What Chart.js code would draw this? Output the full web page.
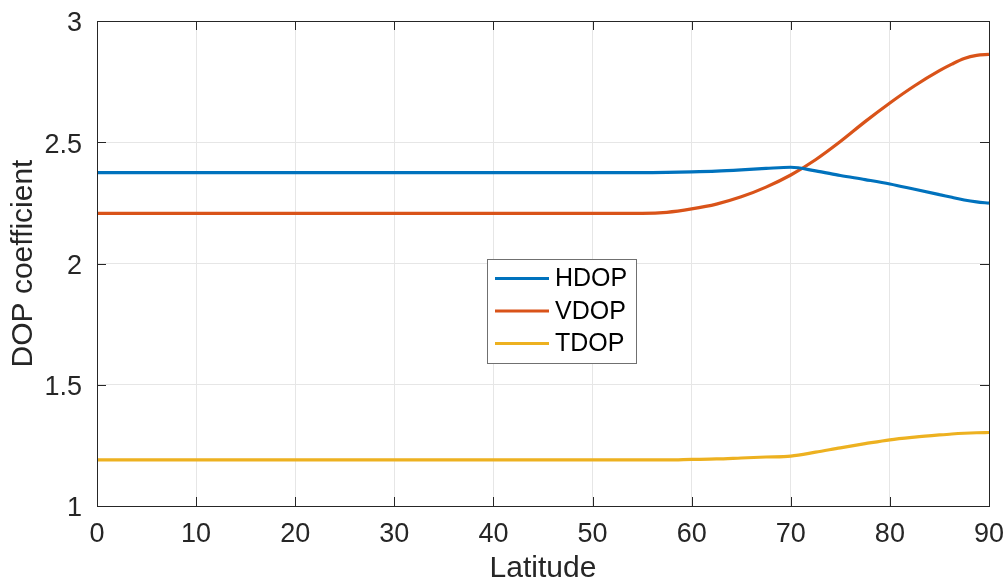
<!DOCTYPE html>
<html>
<head>
<meta charset="utf-8">
<script src="https://cdn.jsdelivr.net/npm/chart.js@4"></script>
<style>
  body { margin: 0; background: #fff; }
  canvas { display: block; }
</style>
</head>
<body>
<canvas id="myChart" width="1008" height="584"></canvas>
<script>
// latitude samples (deg)
var latitude = [0, 5, 10, 15, 20, 25, 30, 35, 40, 45, 50, 55, 57.5, 60, 62.5, 65, 67.5, 70, 72.5, 75, 77.5, 80, 82.5, 85, 86.25, 87.5, 88.75, 90];

// DOP values at those latitudes
var hdop = [2.375, 2.375, 2.375, 2.375, 2.375, 2.375, 2.375, 2.375, 2.375, 2.375, 2.375, 2.375, 2.376, 2.378, 2.381, 2.386, 2.392, 2.397, 2.382, 2.363, 2.346, 2.328, 2.306, 2.284, 2.273, 2.262, 2.254, 2.249];
var vdop = [2.207, 2.207, 2.207, 2.207, 2.207, 2.207, 2.207, 2.207, 2.207, 2.207, 2.207, 2.207, 2.211, 2.225, 2.245, 2.275, 2.315, 2.365, 2.428, 2.503, 2.585, 2.662, 2.733, 2.795, 2.822, 2.845, 2.858, 2.862];
var tdop = [1.190, 1.190, 1.190, 1.190, 1.190, 1.190, 1.190, 1.190, 1.190, 1.190, 1.190, 1.190, 1.190, 1.192, 1.194, 1.198, 1.202, 1.206, 1.222, 1.240, 1.257, 1.273, 1.284, 1.293, 1.297, 1.300, 1.302, 1.303];

var xTicks = [0, 10, 20, 30, 40, 50, 60, 70, 80, 90];
var yTicks = [1, 1.5, 2, 2.5, 3];

var FONT = "'Liberation Sans', Arial, Helvetica, sans-serif";
var TEXT = '#262626';

function pts(ys) {
    return latitude.map(function (x, i) { return { x: x, y: ys[i] }; });
}

function series(label, ys, color) {
    return {
        label: label,
        data: pts(ys),
        borderColor: color,
        backgroundColor: color,
        borderWidth: 3.2,
        pointRadius: 0,
        fill: false,
        cubicInterpolationMode: 'monotone'
    };
}

// inward ticks + full box, like the original axes
var boxPlugin = {
    id: 'box',
    afterDatasetsDraw: function (chart) {
        var c = chart.ctx, a = chart.chartArea;
        var xs = chart.scales.x, ys = chart.scales.y;
        var len = 9;
        c.save();
        c.strokeStyle = TEXT;
        c.lineWidth = 1;
        c.beginPath();
        xTicks.forEach(function (t) {
            var px = Math.round(xs.getPixelForValue(t)) + 0.5;
            c.moveTo(px, a.bottom); c.lineTo(px, a.bottom - len);
            c.moveTo(px, a.top); c.lineTo(px, a.top + len);
        });
        yTicks.forEach(function (t) {
            var py = Math.round(ys.getPixelForValue(t)) + 0.5;
            c.moveTo(a.left, py); c.lineTo(a.left + len, py);
            c.moveTo(a.right, py); c.lineTo(a.right - len, py);
        });
        c.stroke();
        c.strokeRect(Math.round(a.left) + 0.5, Math.round(a.top) + 0.5,
            Math.round(a.right - a.left), Math.round(a.bottom - a.top));
        c.restore();
    }
};

// legend box sitting inside the plot
var legendPlugin = {
    id: 'insideLegend',
    afterDraw: function (chart) {
        var c = chart.ctx;
        var x0 = 487.5, y0 = 259.5, w = 149, h = 104;
        c.save();
        c.fillStyle = '#fff';
        c.fillRect(x0, y0, w, h);
        c.strokeStyle = '#707070';
        c.lineWidth = 1;
        c.strokeRect(x0, y0, w, h);
        c.font = '25px ' + FONT;
        c.textBaseline = 'middle';
        chart.data.datasets.forEach(function (ds, i) {
            var y = 278.5 + i * 32.5;
            c.strokeStyle = ds.borderColor;
            c.lineWidth = 3;
            c.beginPath();
            c.moveTo(495, y); c.lineTo(549, y);
            c.stroke();
            c.fillStyle = '#000';
            c.fillText(ds.label, 555, y + 1);
        });
        c.restore();
    }
};

var ctx = document.getElementById('myChart').getContext('2d');

var myChart = new Chart(ctx, {
    type: 'line',
    data: {
        datasets: [
            series('HDOP', hdop, '#0072BD'),
            series('VDOP', vdop, '#D95319'),
            series('TDOP', tdop, '#EDB120')
        ]
    },
    options: {
        responsive: false,
        animation: false,
        layout: { padding: { top: 21, right: 19, left: 0, bottom: 0 } },
        plugins: {
            legend: { display: false },
            tooltip: { enabled: false }
        },
        scales: {
            x: {
                type: 'linear',
                min: 0,
                max: 90,
                afterBuildTicks: function (s) { s.ticks = xTicks.map(function (v) { return { value: v }; }); },
                afterFit: function (s) { s.height = 78; s.paddingLeft = 0; s.paddingRight = 0; },
                grid: { color: '#e6e6e6', drawTicks: false },
                border: { display: false },
                ticks: {
                    color: TEXT,
                    font: { family: FONT, size: 27 },
                    padding: 12,
                    maxRotation: 0,
                    callback: function (v) { return String(v); }
                },
                title: {
                    display: true,
                    text: 'Latitude',
                    color: TEXT,
                    font: { family: FONT, size: 30, lineHeight: 1 },
                    padding: { top: 0, bottom: 0 }
                }
            },
            y: {
                type: 'linear',
                min: 1,
                max: 3,
                afterBuildTicks: function (s) { s.ticks = yTicks.map(function (v) { return { value: v }; }); },
                afterFit: function (s) { s.width = 97; s.paddingTop = 0; s.paddingBottom = 0; },
                grid: { color: '#e6e6e6', drawTicks: false },
                border: { display: false },
                ticks: {
                    color: TEXT,
                    font: { family: FONT, size: 27 },
                    padding: 15,
                    labelOffset: 3,
                    callback: function (v) { return String(v); }
                },
                title: {
                    display: true,
                    text: 'DOP coefficient',
                    color: TEXT,
                    font: { family: FONT, size: 30, lineHeight: 1 },
                    padding: { top: 9, bottom: 0 }
                }
            }
        }
    },
    plugins: [boxPlugin, legendPlugin]
});
</script>
</body>
</html>
